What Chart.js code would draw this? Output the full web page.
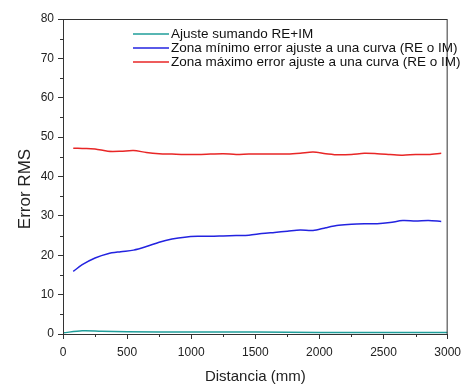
<!DOCTYPE html>
<html>
<head>
<meta charset="utf-8">
<script src="https://cdn.jsdelivr.net/npm/chart.js@4"></script>
<style>
  html, body { margin: 0; padding: 0; background: #fff; }
  #wrap { width: 467px; height: 387px; }
</style>
</head>
<body>
<div id="wrap"><canvas id="myChart"></canvas></div>
<script>
// distances (mm) for the two zone curves
const distancia = [80, 150, 250, 350, 450, 550, 650, 750, 850, 950, 1050, 1150, 1250, 1350, 1450,
    1550, 1650, 1750, 1850, 1950, 2050, 2150, 2250, 2350, 2450, 2550, 2650, 2750, 2850, 2950];
const zonaMaximo = [47.2, 47.1, 47.0, 46.4, 46.4, 46.6, 46.1, 45.8, 45.7, 45.6, 45.6, 45.7, 45.8, 45.6, 45.7,
    45.7, 45.7, 45.7, 45.9, 46.2, 45.8, 45.5, 45.6, 45.9, 45.8, 45.6, 45.4, 45.6, 45.6, 45.9];
const zonaMinimo = [15.9, 17.6, 19.3, 20.4, 20.9, 21.3, 22.2, 23.3, 24.1, 24.6, 24.8, 24.8, 24.9, 25.0, 25.1,
    25.5, 25.8, 26.1, 26.4, 26.3, 27.0, 27.6, 27.9, 28.0, 28.0, 28.3, 28.8, 28.7, 28.8, 28.6];

// combined fit, spans the whole axis
const distanciaSuma = [0, 150, 300, 500, 1000, 1500, 2000, 2500, 3000];
const ajusteSuma = [0.3, 0.8, 0.7, 0.6, 0.5, 0.5, 0.4, 0.4, 0.4];

const etiquetas = ['Ajuste sumando RE+IM',
    'Zona mínimo error ajuste a una curva (RE o IM)',
    'Zona máximo error ajuste a una curva (RE o IM)'];

const FONT = '"Liberation Sans", Arial, sans-serif';

function pts(xs, ys) {
    return xs.map((x, i) => ({ x: x, y: ys[i] }));
}

// box, minor ticks, y title and the compact legend
const frame = {
    id: 'frame',
    afterDraw(chart) {
        const ctx = chart.ctx;
        const a = chart.chartArea;
        const sx = chart.scales.x, sy = chart.scales.y;
        ctx.save();
        ctx.strokeStyle = '#333';
        ctx.lineWidth = 1;
        ctx.strokeRect(a.left + 0.5, a.top + 0.5, a.right - a.left - 1, a.bottom - a.top);
        ctx.beginPath();
        for (let v = 5; v < 80; v += 10) {
            const y = Math.round(sy.getPixelForValue(v)) + 0.5;
            ctx.moveTo(a.left - 3, y);
            ctx.lineTo(a.left, y);
        }
        for (let v = 250; v < 3000; v += 500) {
            const x = Math.round(sx.getPixelForValue(v)) + 0.5;
            ctx.moveTo(x, a.bottom);
            ctx.lineTo(x, a.bottom + 3);
        }
        ctx.stroke();

        // y axis title, sits a bit below the middle like the original
        ctx.save();
        ctx.translate(25, 189);
        ctx.rotate(-Math.PI / 2);
        ctx.font = '17px ' + FONT;
        ctx.fillStyle = '#222';
        ctx.textAlign = 'center';
        ctx.textBaseline = 'middle';
        ctx.fillText('Error RMS', 0, 0);
        ctx.restore();

        // legend
        ctx.font = '13.5px ' + FONT;
        ctx.textBaseline = 'middle';
        chart.data.datasets.forEach((ds, i) => {
            const y = a.top + 15 + i * 14;
            ctx.strokeStyle = ds.borderColor;
            ctx.lineWidth = 1.5;
            ctx.beginPath();
            ctx.moveTo(a.left + 70, y);
            ctx.lineTo(a.left + 106, y);
            ctx.stroke();
            ctx.fillStyle = '#111';
            ctx.fillText(ds.label, a.left + 108, y);
        });
        ctx.restore();
    }
};

const ctx = document.getElementById('myChart').getContext('2d');

let chart = new Chart(ctx, {
    type: 'line',
    data: {
        datasets: [
            {
                label: etiquetas[0],
                data: pts(distanciaSuma, ajusteSuma),
                borderColor: '#1f9e9a',
                borderWidth: 1.5
            },
            {
                label: etiquetas[1],
                data: pts(distancia, zonaMinimo),
                borderColor: '#2323e0',
                borderWidth: 1.5
            },
            {
                label: etiquetas[2],
                data: pts(distancia, zonaMaximo),
                borderColor: '#e82626',
                borderWidth: 1.5
            }
        ]
    },
    options: {
        responsive: true,
        maintainAspectRatio: false,
        animation: false,
        layout: { padding: { top: 19, right: 16, left: 0, bottom: 0 } },
        elements: { point: { radius: 0 }, line: { tension: 0.3 } },
        plugins: { legend: { display: false }, tooltip: { enabled: false } },
        scales: {
            x: {
                type: 'linear',
                min: 0,
                max: 3000,
                afterFit: (s) => { s.height = 53; },
                ticks: { stepSize: 500, color: '#222', padding: 6,
                    callback: (v) => String(v),
                    font: { size: 12, family: FONT } },
                grid: { drawOnChartArea: false, tickLength: 5, color: '#333' },
                border: { color: '#333' },
                title: { display: true, text: 'Distancia (mm)', color: '#222',
                    font: { size: 15, family: FONT },
                    padding: { top: 0, bottom: 1 } }
            },
            y: {
                min: 0,
                max: 80,
                afterFit: (s) => { s.width = 63; },
                ticks: { stepSize: 10, color: '#222', padding: 4,
                    font: { size: 12, family: FONT } },
                grid: { drawOnChartArea: false, tickLength: 5, color: '#333' },
                border: { color: '#333' }
            }
        }
    },
    plugins: [frame]
});
</script>
</body>
</html>
